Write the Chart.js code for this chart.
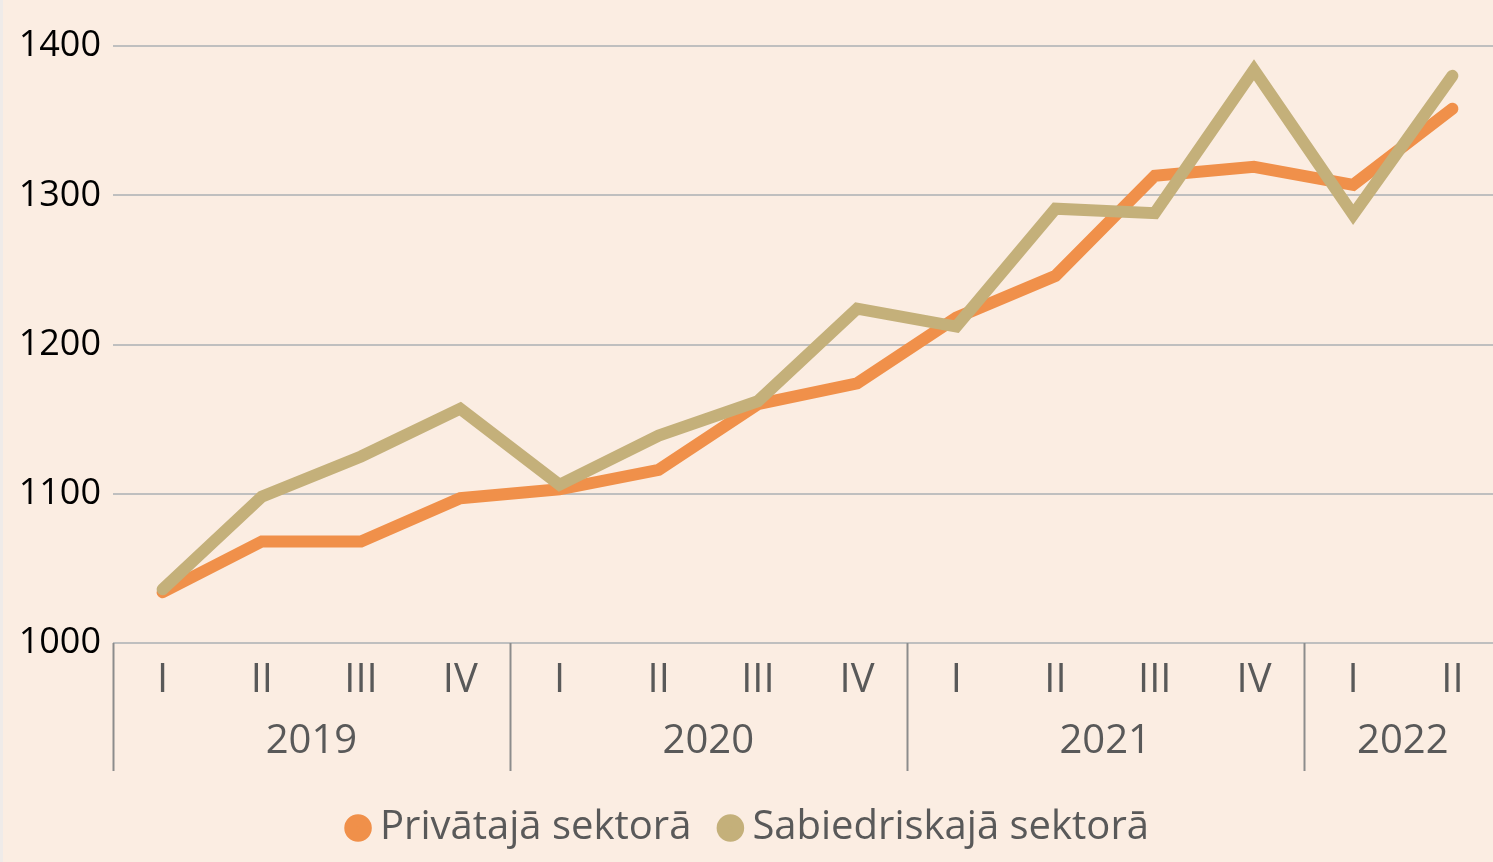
<!DOCTYPE html>
<html>
<head>
<meta charset="utf-8">
<script src="https://cdn.jsdelivr.net/npm/chart.js@4"></script>
<style>
  html, body { margin: 0; padding: 0; overflow: hidden; background: #FBEDE2; }
  body { border-left: 3px solid #EFEBE9; }
  #wrap { position: relative; width: 1499px; height: 862px; }
</style>
</head>
<body>
<div id="wrap"><canvas id="chart"></canvas></div>
<script>
const quarters = ['I', 'II', 'III', 'IV', 'I', 'II', 'III', 'IV', 'I', 'II', 'III', 'IV', 'I', 'II'];
const years = ['2019', '2020', '2021', '2022'];
const quartersPerYear = [4, 4, 4, 2];

const privateSector = [1034, 1068, 1068, 1097, 1103, 1116, 1160, 1174, 1218, 1246, 1313, 1319, 1307, 1358];
const publicSector = [1036, 1098, 1125, 1157, 1106, 1139, 1162, 1224, 1212, 1291, 1288, 1384, 1287, 1380];

const yTicks = [1000, 1100, 1200, 1300, 1400];

const font = '"Open Sans", "Noto Sans", sans-serif';

// year centres and boundaries, in category index units
const yearCenters = [];
const yearBounds = [-0.5];
let start = 0;
quartersPerYear.forEach(n => {
    yearCenters.push(start + (n - 1) / 2);
    start += n;
    yearBounds.push(start - 0.5);
});

// vertical separators between years, below the plot
const separators = {
    id: 'separators',
    afterDraw(chart) {
        const ctx = chart.ctx;
        const x2 = chart.scales.x2;
        ctx.save();
        ctx.strokeStyle = '#8C8C8C';
        ctx.lineWidth = 2;
        yearBounds.forEach(b => {
            const px = Math.round(x2.getPixelForValue(b)) + 0.5;
            ctx.beginPath();
            ctx.moveTo(px, chart.chartArea.bottom);
            ctx.lineTo(px, x2.bottom);
            ctx.stroke();
        });
        ctx.restore();
    }
};

new Chart(document.getElementById('chart'), {
    type: 'line',
    plugins: [separators],
    data: {
        labels: quarters,
        datasets: [
            {
                label: 'Privātajā sektorā',
                data: privateSector,
                borderColor: '#F0904A',
                backgroundColor: '#F0904A',
                borderWidth: 12,
                borderCapStyle: 'round',
                borderJoinStyle: 'miter',
                pointRadius: 0,
                tension: 0,
                order: 1
            },
            {
                label: 'Sabiedriskajā sektorā',
                data: publicSector,
                borderColor: '#C4B07A',
                backgroundColor: '#C4B07A',
                borderWidth: 12,
                borderCapStyle: 'round',
                borderJoinStyle: 'miter',
                pointRadius: 0,
                tension: 0,
                order: 0
            }
        ]
    },
    options: {
        responsive: true,
        maintainAspectRatio: false,
        animation: false,
        layout: { padding: { top: 46, right: 0, left: 0, bottom: 4 } },
        plugins: {
            tooltip: { enabled: false },
            legend: {
                position: 'bottom',
                labels: {
                    usePointStyle: true,
                    pointStyle: 'circle',
                    boxWidth: 4,
                    boxHeight: 11,
                    padding: 37,
                    color: '#595959',
                    font: { family: font, size: 40 },
                    sort: (a, b) => a.datasetIndex - b.datasetIndex
                }
            }
        },
        scales: {
            x: {
                type: 'category',
                offset: true,
                weight: 0,
                grid: { display: false, drawTicks: false },
                border: { display: false },
                ticks: {
                    color: '#595959',
                    padding: 14,
                    maxRotation: 0,
                    autoSkip: false,
                    font: { family: font, size: 40 }
                },
                afterFit: s => { s.height = 66; }
            },
            x2: {
                type: 'linear',
                position: 'bottom',
                weight: 1,
                min: -0.5,
                max: quarters.length - 0.5,
                grid: { display: false, drawTicks: false },
                border: { display: false },
                afterBuildTicks: s => { s.ticks = yearCenters.map(v => ({ value: v })); },
                ticks: {
                    color: '#595959',
                    padding: 9,
                    maxRotation: 0,
                    autoSkip: false,
                    font: { family: font, size: 40 },
                    callback: (v) => years[yearCenters.indexOf(v)]
                },
                afterFit: s => { s.height = 62; }
            },
            y: {
                min: 1000,
                max: 1400,
                afterBuildTicks: s => { s.ticks = yTicks.map(v => ({ value: v })); },
                grid: { color: '#BFBFBF', lineWidth: 2, drawTicks: false },
                border: { display: false },
                ticks: {
                    color: '#000000',
                    padding: 12,
                    font: { family: font, size: 36 },
                    callback: v => String(v)
                },
                afterFit: s => { s.width = 110; }
            }
        }
    }
});
</script>
</body>
</html>
